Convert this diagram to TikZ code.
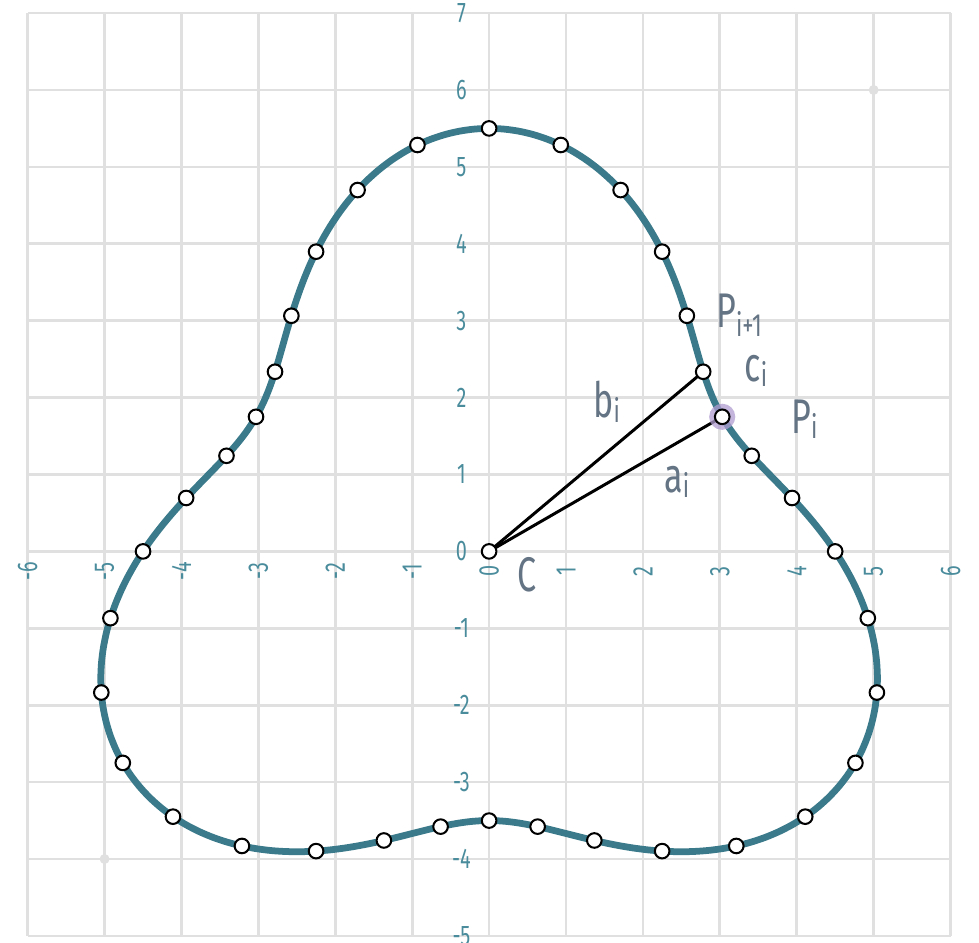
\documentclass[tikz,border=0pt]{standalone}
\usepackage{graphicx}
\usepackage{fontspec}
\setmainfont{Fira Sans}
\newfontfamily\condfont[FakeStretch=0.7]{Fira Sans}
\usepackage{tikz}
\usetikzlibrary{arrows.meta, calc}
\usepackage{xcolor}
\definecolor{gridclr}{RGB}{224, 224, 224}
\definecolor{curveclr}{RGB}{58, 122, 138}
\definecolor{axisclr}{RGB}{74, 140, 156}
\definecolor{labclr}{RGB}{100, 116, 132}
\definecolor{haloclr}{RGB}{176, 156, 208}
\newcommand{\lowsub}[2][0.1em]{\raisebox{-#1}{\scalebox{0.66}{#2}}}
\tikzset{
  % Setka va o'qlar
  gridline/.style  = {draw=gridclr, line width=1pt},
  xnum/.style      = {font=\condfont\fontsize{10.5}{11}\selectfont, text=axisclr, rotate=90, inner sep=0pt},
  ynum/.style      = {font=\condfont\fontsize{10.5}{11}\selectfont, text=axisclr, inner sep=0pt},
  % Egri chiziq
  curveline/.style = {draw=curveclr, line width=2.5pt},
  % Nuqtalar
  vertex/.style    = {circle, draw=black, fill=white, line width=0.75pt, inner sep=0pt, minimum size=0.19cm},
  halo/.style      = {circle, fill=haloclr, fill opacity=0.75, inner sep=0pt, minimum size=0.34cm},
  ghostpt/.style   = {circle, fill=gridclr, inner sep=0pt, minimum size=0.13cm},
  % Kesmalar
  radius/.style    = {draw=black, line width=1.1pt},
  % Etiketlar
  lab/.style       = {font=\condfont\fontsize{18}{19}\selectfont, text=labclr, inner sep=1pt},
}
\begin{document}
\begin{tikzpicture}
  \useasboundingbox (-6.36,-5.08) rectangle (6.37,7.17);
  % Setka
  \foreach \gx in {-6,...,6}
    \draw[gridline] (\gx,-5) -- (\gx,7);
  \foreach \gy in {-5,...,7}
    \draw[gridline] (-6,\gy) -- (6,\gy);
  \node[ghostpt] (g1) at (5,6) {};
  \node[ghostpt] (g2) at (-5,-4) {};
  % O'q raqamlari
  \foreach \gx in {-6,...,6}
    \node[xnum] (xl\gx) at (\gx,-0.26) {\gx};
  \foreach \gy in {-5,...,7}
    \node[ynum] (yl\gy) at (-0.36,\gy) {\gy};
  % Egri chiziq r = 4.5 - sin(3t)
  \draw[curveline] plot[domain=0:360, samples=181, smooth]
    ({(4.5-sin(3*\x))*cos(\x)}, {(4.5-sin(3*\x))*sin(\x)}) -- cycle;
  % Markaz va nuqtalar
  \coordinate (cC) at (0,0);
  \foreach \t in {0,10,...,350}
    \coordinate (p\t) at ({(4.5-sin(3*\t))*cos(\t)}, {(4.5-sin(3*\t))*sin(\t)});
  \draw[radius] (cC) -- (p30);
  \draw[radius] (cC) -- (p40);
  \node[halo] (hl) at (p30) {};
  \foreach \t in {0,10,...,350}
    \node[vertex] (v\t) at (p\t) {};
  \node[vertex] (vC) at (cC) {};
  % Etiketlar
  \node[lab] (lPn) at (3.25,3.07) {P\lowsub[0.17em]{i+1}};
  \node[lab] (lc)  at (3.47,2.35) {c\lowsub{i}};
  \node[lab] (lP)  at (4.1,1.72)  {P\lowsub{i}};
  \node[lab] (lb)  at (1.53,1.95) {b\lowsub{i}};
  \node[lab] (la)  at (2.44,0.9)  {a\lowsub{i}};
  \node[lab] (lC)  at (0.49,-0.3) {C};
\end{tikzpicture}
\end{document}
